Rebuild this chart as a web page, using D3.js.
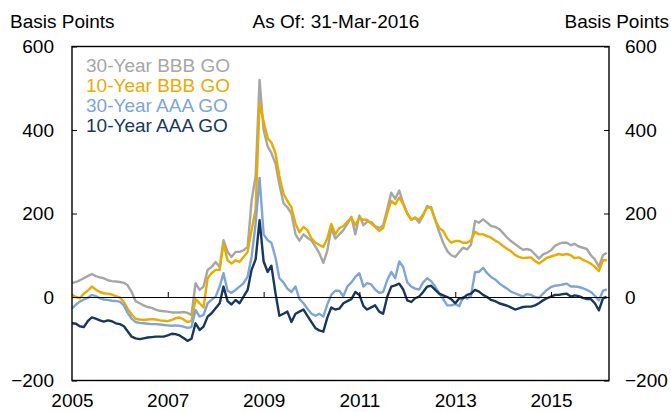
<!DOCTYPE html>
<html>
<head>
<meta charset="utf-8">
<script src="https://cdn.jsdelivr.net/npm/d3@7/dist/d3.min.js"></script>
<style>
  body { margin: 0; background: #fff; }
  text { font-family: "Liberation Sans", Arial, sans-serif; }
</style>
</head>
<body>
<div id="chart"></div>
<script>
// monthly readings, Jan 2005 .. Mar 2016 (basis points)
const seriesNames = ['30-Year BBB GO', '10-Year BBB GO', '30-Year AAA GO', '10-Year AAA GO'];
const seriesColors = ['#a6a6a6', '#e8ab00', '#7ea5d6', '#17375e'];

const bbb30 = [33,36,40,45,50,55,50,47,45,40,38,37,36,34,28,12,-10,-15,-20,-24,-26,-30,-33,-34,-35,-37,-37,-37,-36,-38,
  -43,33,17,25,65,72,84,72,136,108,96,108,108,112,120,230,290,520,
  400,360,345,320,270,225,215,200,150,135,150,142,135,120,105,82,110,165,140,150,160,175,192,150,195,172,180,180,170,165,
  172,210,250,235,255,225,200,185,190,178,195,218,213,184,155,130,110,100,96,108,118,114,125,
  182,178,186,178,170,168,163,153,142,134,127,120,113,115,112,102,92,102,106,112,123,127,130,130,124,127,121,118,115,100,90,72,100,106];
const bbb10 = [5,0,-3,8,15,25,18,12,9,8,6,2,-1,-12,-28,-42,-52,-54,-55,-54,-53,-54,-56,-57,-58,-55,-51,-49,-54,-60,
  -57,-5,-15,-25,45,57,65,65,128,88,80,88,84,96,108,160,210,465,
  420,380,370,345,290,248,230,215,176,155,168,160,140,130,125,120,140,175,150,165,170,180,190,172,190,185,185,176,168,158,
  165,200,230,222,238,222,200,185,190,185,198,214,215,185,165,158,140,130,134,134,130,130,136,
  156,150,150,146,142,135,130,122,115,110,101,96,93,94,95,86,80,87,94,97,100,103,101,103,100,93,95,89,85,80,72,62,88,88];
const aaa30 = [-27,-18,-11,-6,-2,5,2,-3,-6,-7,-9,-10,-11,-20,-38,-52,-60,-62,-63,-64,-65,-65,-66,-67,-68,-69,-68,-69,-71,-74,
  -72,-31,-47,-43,-15,-7,1,25,57,15,10,17,25,33,49,96,176,285,
  150,136,130,95,45,35,20,12,25,-5,-15,-28,-40,-45,-40,-47,-18,5,15,15,2,25,35,48,57,25,33,30,18,10,
  12,40,60,45,85,72,35,25,20,18,35,45,38,25,8,-5,-20,-20,-17,-22,0,-4,3,
  60,60,70,57,48,42,33,26,20,13,9,5,1,7,5,0,-2,8,17,24,27,28,30,32,25,25,24,21,17,12,3,-8,15,18];
const aaa10 = [-63,-64,-70,-72,-58,-49,-52,-56,-59,-56,-58,-63,-65,-70,-82,-95,-99,-101,-99,-97,-96,-95,-95,-95,-92,-88,-89,-92,-98,-105,
  -100,-63,-79,-71,-47,-39,-27,-15,25,-10,-18,-7,-15,1,17,65,90,184,
  85,60,75,10,-45,-40,-35,-60,-40,-35,-30,-45,-60,-75,-80,-83,-50,-25,-30,-28,-15,-10,-5,12,5,-22,-30,-25,-20,-35,
  -40,0,25,28,32,18,-8,-12,-3,1,12,25,27,17,8,4,0,-5,-15,-3,-3,5,8,
  17,13,5,0,-7,-10,-15,-18,-21,-25,-30,-27,-24,-23,-23,-20,-15,-8,-3,1,5,5,7,8,1,4,2,-2,-5,-5,-15,-32,-3,0];

const yTicks = [-200, 0, 200, 400, 600];
const xTickYears = [2005, 2007, 2009, 2011, 2013, 2015];

const width = 671, height = 412;
const margin = { top: 46.5, right: 62, bottom: 31.5, left: 72 };
const fontSize = '19px';

const months = d3.timeMonth.range(new Date(2005, 0, 1), new Date(2016, 3, 1));
const allSeries = [bbb30, bbb10, aaa30, aaa10];

const svg = d3.select('#chart')
  .append('svg')
  .attr('width', width)
  .attr('height', height);

const x = d3.scaleTime()
  .domain([new Date(2005, 0, 1), new Date(2016, 2, 18)])
  .range([margin.left, width - margin.right]);

const y = d3.scaleLinear()
  .domain([-200, 600])
  .range([height - margin.bottom, margin.top]);

const tickDates = xTickYears.map(yr => new Date(yr, 0, 1));

// year labels under the frame
svg.append('g')
  .attr('transform', `translate(0, ${height - margin.bottom})`)
  .call(d3.axisBottom(x).tickValues(tickDates).tickFormat(d3.timeFormat('%Y')).tickSize(0).tickPadding(13))
  .call(g => g.select('.domain').remove())
  .selectAll('text')
  .style('font-size', fontSize)
  .attr('fill', '#000');

// left axis
svg.append('g')
  .attr('transform', `translate(${margin.left}, 0)`)
  .call(d3.axisLeft(y).tickValues(yTicks).tickSizeInner(-5).tickSizeOuter(0).tickPadding(18))
  .call(g => g.select('.domain').remove())
  .call(g => g.selectAll('line').attr('stroke', '#000'))
  .selectAll('text')
  .style('font-size', fontSize)
  .attr('fill', '#000');

// right axis
svg.append('g')
  .attr('transform', `translate(${width - margin.right}, 0)`)
  .call(d3.axisRight(y).tickValues(yTicks).tickSizeInner(-5).tickSizeOuter(0).tickPadding(16))
  .call(g => g.select('.domain').remove())
  .call(g => g.selectAll('line').attr('stroke', '#000'))
  .selectAll('text')
  .style('font-size', fontSize)
  .attr('fill', '#000');

// lines
const line = d3.line()
  .x((d, i) => x(months[i]))
  .y(d => y(d));

svg.append('g')
  .selectAll('path')
  .data(allSeries)
  .enter()
  .append('path')
  .attr('d', line)
  .attr('fill', 'none')
  .attr('stroke', (d, i) => seriesColors[i])
  .attr('stroke-width', 2.4)
  .attr('stroke-linejoin', 'round');

// zero line with year ticks pointing up
svg.append('g')
  .attr('transform', `translate(0, ${y(0)})`)
  .call(d3.axisTop(x).tickValues(tickDates.slice(1)).tickSize(5).tickSizeOuter(0).tickFormat(''))
  .call(g => g.select('.domain').attr('stroke', '#000').attr('stroke-width', 1.2))
  .call(g => g.selectAll('line').attr('stroke', '#000'));

// frame
svg.append('rect')
  .attr('x', margin.left)
  .attr('y', margin.top)
  .attr('width', width - margin.left - margin.right)
  .attr('height', height - margin.top - margin.bottom)
  .attr('fill', 'none')
  .attr('stroke', '#000')
  .attr('stroke-width', 1.4);

// legend
svg.append('g')
  .selectAll('text')
  .data(seriesNames)
  .enter()
  .append('text')
  .attr('x', 86)
  .attr('y', (d, i) => 72 + i * 20)
  .attr('fill', (d, i) => seriesColors[i])
  .style('font-size', fontSize)
  .text(d => d);

// headers
svg.append('text')
  .attr('x', 10)
  .attr('y', 28)
  .style('font-size', fontSize)
  .text('Basis Points');

svg.append('text')
  .attr('x', 336)
  .attr('y', 28)
  .attr('text-anchor', 'middle')
  .style('font-size', fontSize)
  .text('As Of: 31-Mar-2016');

svg.append('text')
  .attr('x', 669)
  .attr('y', 28)
  .attr('text-anchor', 'end')
  .style('font-size', fontSize)
  .text('Basis Points');
</script>
</body>
</html>
